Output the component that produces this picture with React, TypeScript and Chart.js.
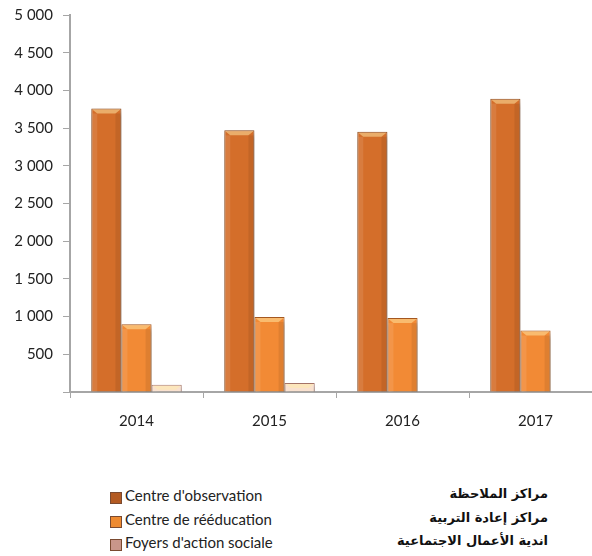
import React, { useEffect, useRef } from "react";
import { Chart, registerables } from "chart.js";

Chart.register(...registerables);

const years = ["2014", "2015", "2016", "2017"];
const observation = [3760, 3470, 3450, 3890];
const reeducation = [900, 995, 980, 815];
const foyers = [95, 120, null, null];

const seriesLabels = ["Centre d'observation", "Centre de rééducation", "Foyers d'action sociale"];
const arabicLabels = ["مراكز الملاحظة", "مراكز إعادة التربية", "اندية الأعمال الاجتماعية"];
const fills = ["#d46e2a", "#f28a35", "#f9e1cf"];
const borders = ["#8c4a1c", "#a85a20", "#a9776a"];
const legendSwatch = ["#b35a22", "#ee8a30", "#c9968a"];

const FONT = "Lato, 'Open Sans', sans-serif";

function fmt(v: number) {
  if (v === 0) return "";
  const s = String(Math.round(v));
  return s.replace(/\B(?=(\d{3})+(?!\d))/g, " ");
}

const shadowPlugin = {
  id: "barShadow",
  beforeDatasetsDraw(chart: any) {
    const ctx = chart.ctx;
    ctx.save();
    ctx.shadowColor = "rgba(0,0,0,0.35)";
    ctx.shadowBlur = 6;
    ctx.shadowOffsetX = 2;
    ctx.shadowOffsetY = 4;
  },
  afterDatasetsDraw(chart: any) {
    const ctx = chart.ctx;
    ctx.restore();
    chart.data.datasets.forEach((ds: any, di: number) => {
      const meta = chart.getDatasetMeta(di);
      meta.data.forEach((el: any, i: number) => {
        if (ds.data[i] == null) return;
        const { x, y, base, width } = el.getProps(["x", "y", "base", "width"], true);
        const l = x - width / 2 + 1;
        const r = x + width / 2 - 1;
        const b = 5;
        ctx.save();
        ctx.fillStyle = "rgba(255,235,170,0.5)";
        ctx.beginPath();
        ctx.moveTo(l, y + 1);
        ctx.lineTo(r, y + 1);
        ctx.lineTo(r - b, y + b);
        ctx.lineTo(l + b, y + b);
        ctx.closePath();
        ctx.fill();
        if (base - y > 12) {
          ctx.fillStyle = "rgba(255,255,255,0.10)";
          ctx.fillRect(l, y + b, b, base - y - b);
          ctx.fillStyle = "rgba(0,0,0,0.08)";
          ctx.fillRect(r - b, y + b, b, base - y - b);
        }
        ctx.restore();
      });
    });
  },
};

export default function App() {
  const ref = useRef<HTMLCanvasElement>(null);
  useEffect(() => {
    const data = [observation, reeducation, foyers];
    const chart = new Chart(ref.current!, {
      type: "bar",
      data: {
        labels: years,
        datasets: data.map((d, i) => ({
          label: seriesLabels[i],
          data: d as any,
          backgroundColor: fills[i],
          borderColor: borders[i],
          borderWidth: 1,
          categoryPercentage: 0.68,
          barPercentage: 1,
        })),
      },
      options: {
        animation: false,
        responsive: false,
        layout: { padding: { top: 0, left: 0, right: 0, bottom: 0 } },
        plugins: { legend: { display: false }, tooltip: { enabled: false } },
        scales: {
          x: {
            afterFit: (s: any) => {
              s.height = 48;
            },
            grid: {
              display: true,
              drawOnChartArea: false,
              drawTicks: true,
              tickLength: 6,
              color: "#a6a6a6",
              offset: true,
            },
            border: { color: "#a6a6a6", width: 2 },
            ticks: { color: "#222", font: { family: FONT, size: 15 }, padding: 14 },
          },
          y: {
            min: 0,
            max: 5000,
            afterFit: (s: any) => {
              s.width = 70;
            },
            grid: {
              display: true,
              drawOnChartArea: false,
              drawTicks: true,
              tickLength: 7,
              color: "#a6a6a6",
            },
            border: { color: "#a6a6a6", width: 2 },
            ticks: {
              stepSize: 500,
              color: "#222",
              font: { family: FONT, size: 15 },
              padding: 10,
              callback: (v: any) => fmt(Number(v)),
            },
          },
        },
      },
      plugins: [shadowPlugin],
    });
    return () => chart.destroy();
  }, []);

  return (
    <div
      style={{
        position: "fixed",
        left: 0,
        top: 0,
        width: 592,
        height: 556,
        overflow: "hidden",
        background: "#fff",
      }}
    >
      <canvas
        ref={ref}
        width={602}
        height={444}
        style={{ display: "block", position: "absolute", left: 0, top: -4 }}
      />
      <div style={{ position: "absolute", left: 0, top: 486, width: 592 }}>
        {seriesLabels.map((s, i) => (
          <div key={s} style={{ position: "relative", height: 23.5 }}>
            <div
              style={{
                position: "absolute",
                left: 110,
                top: 6,
                width: 10,
                height: 10,
                background: legendSwatch[i],
                border: "1px solid #7a4a30",
              }}
            />
            <div
              style={{
                position: "absolute",
                left: 125,
                top: 0,
                fontFamily: FONT,
                fontSize: 15,
                color: "#222",
              }}
            >
              {s}
            </div>
            <div
              dir="rtl"
              style={{
                position: "absolute",
                right: 44,
                top: 0,
                fontFamily: "'DejaVu Sans', sans-serif",
                fontWeight: "bold",
                fontSize: 13,
                color: "#111",
              }}
            >
              {arabicLabels[i]}
            </div>
          </div>
        ))}
      </div>
    </div>
  );
}
